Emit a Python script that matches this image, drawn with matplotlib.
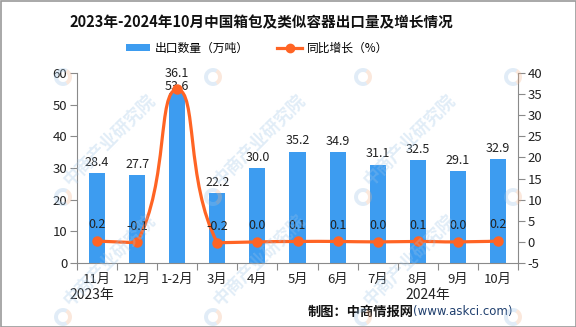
import numpy as np
import matplotlib
matplotlib.use("Agg")
import matplotlib.pyplot as plt
from matplotlib.path import Path
from matplotlib.patches import PathPatch, Patch, Wedge
from matplotlib.lines import Line2D

plt.rcParams['font.family'] = ['Noto Sans CJK SC', 'DejaVu Sans']
plt.rcParams['axes.unicode_minus'] = False

# ---- data ----
categories = ['11月', '12月', '1-2月', '3月', '4月', '5月', '6月', '7月', '8月', '9月', '10月']
export_volume = [28.4, 27.7, 53.6, 22.2, 30.0, 35.2, 34.9, 31.1, 32.5, 29.1, 32.9]   # 万吨
yoy_growth = [0.2, -0.1, 36.1, -0.2, 0.0, 0.1, 0.1, 0.0, 0.1, 0.0, 0.2]              # %
left_ticks = [0, 10, 20, 30, 40, 50, 60]
right_ticks = [-5, 0, 5, 10, 15, 20, 25, 30, 35, 40]

title = '2023年-2024年10月中国箱包及类似容器出口量及增长情况'
bar_name = '出口数量（万吨）'
line_name = '同比增长（%）'

BAR_C = '#3d9cf0'
LINE_C = '#ff6424'
AX_C = '#8a8a8a'

W, H = 576, 327
fig = plt.figure(figsize=(W / 100, H / 100), dpi=100)


def fx(px):
    return px / W


def fy(py):
    return 1 - py / H


ax = fig.add_axes([fx(77), fy(263), fx(518) - fx(77), fy(73) - fy(263)])
ax2 = ax.twinx()

x = np.arange(len(categories))
ax.bar(x, export_volume, width=0.4, color=BAR_C, zorder=2)
ax.set_xlim(-0.5, len(categories) - 0.5)
ax.set_ylim(0, 60)
ax.set_yticks(left_ticks)
ax2.set_ylim(-5, 40)
ax2.set_yticks(right_ticks)

for a in (ax, ax2):
    for s in a.spines.values():
        s.set_color(AX_C)
    a.spines['top'].set_visible(False)
ax.spines['right'].set_visible(False)
ax2.spines['left'].set_visible(False)
ax2.spines['bottom'].set_visible(False)

ax.tick_params(axis='y', colors=AX_C, labelcolor='#222222', labelsize=9.5, length=5, width=0.8, pad=2)
ax2.tick_params(axis='y', colors=AX_C, labelcolor='#222222', labelsize=9.5, length=5, width=0.8, pad=2)
ax.set_xticks(np.arange(len(categories) + 1) - 0.5)
ax.set_xticklabels([])
ax.tick_params(axis='x', which='major', colors=AX_C, length=5, width=0.8)
ax.set_xticks(x, minor=True)
ax.set_xticklabels(categories, minor=True, fontsize=9.5, color='#222222')
ax.tick_params(axis='x', which='minor', length=0, pad=7)

fig.canvas.draw()
bar_top_px = ax.transData.transform(np.column_stack([x, export_volume]))[:, 1]
pt_px = ax2.transData.transform(np.column_stack([x, yoy_growth]))[:, 1]

# bar value labels; a label that would sit on the growth label is tucked onto the bar top
for xi, v, bt, gp in zip(x, export_volume, bar_top_px, pt_px):
    off = 0 if abs((bt + 10) - (gp + 15)) < 16 else 3
    ax.annotate(f'{v:.1f}', (xi, v), xytext=(0, off), textcoords='offset points',
                ha='center', va='bottom', fontsize=9, color='#222222', zorder=5)

# smoothed growth line (bezier through the points, control points clamped to the data box)
pts = ax2.transData.transform(np.column_stack([x, yoy_growth]))
lo, hi = pts.min(axis=0), pts.max(axis=0)
smooth = 0.5
cps = []
for i, p in enumerate(pts):
    if i == 0 or i == len(pts) - 1:
        cps.append((p.copy(), p.copy()))
        continue
    prev_p, next_p = pts[i - 1], pts[i + 1]
    v = (next_p - prev_p) * smooth
    d0 = np.hypot(*(p - prev_p))
    d1 = np.hypot(*(p - next_p))
    s = d0 + d1
    d0, d1 = d0 / s, d1 / s
    c0 = np.clip(p - v * d0, lo, hi)
    c1 = np.clip(p + v * d1, lo, hi)
    cps.append((c0, c1))

verts = [pts[0]]
codes = [Path.MOVETO]
for i in range(len(pts) - 1):
    verts += [cps[i][1], cps[i + 1][0], pts[i + 1]]
    codes += [Path.CURVE4] * 3
inv = ax2.transData.inverted()
verts = inv.transform(np.array(verts))
ax2.add_patch(PathPatch(Path(verts, codes), facecolor='none', edgecolor=LINE_C,
                        lw=2.3, zorder=3, capstyle='round'))
ax2.plot(x, yoy_growth, linestyle='none', marker='o', ms=6.5, color=LINE_C, zorder=4)

for xi, v in zip(x, yoy_growth):
    ax2.annotate(f'{v:.1f}', (xi, v), xytext=(0, 7), textcoords='offset points',
                 ha='center', va='bottom', fontsize=9, color='#222222', zorder=5)

ax.set_zorder(1)
ax2.set_zorder(2)
ax.patch.set_visible(False)

# title and legend
fig.text(fx(261), fy(22), title, ha='center', va='center', fontsize=10.5,
         fontweight='bold', color='#111111')
handles = [Patch(facecolor=BAR_C, edgecolor='none'),
           Line2D([0], [0], color=LINE_C, lw=2.3, marker='o', ms=6)]
fig.legend(handles, [bar_name, line_name], loc='center', ncol=2, frameon=False,
           bbox_to_anchor=(fx(257), fy(48)), fontsize=8.5, handlelength=2.1,
           handleheight=0.6, handletextpad=0.4, columnspacing=2.4)

# year labels and source
fig.text(fx(92), fy(295), '2023年', ha='center', va='center', fontsize=10, color='#222222')
fig.text(fx(428), fy(295), '2024年', ha='center', va='center', fontsize=10, color='#222222')
url = fig.text(fx(513), fy(312), '(www.askci.com)', ha='right', va='center',
               fontsize=8.5, color='#1f3f6e', family='DejaVu Sans')
fig.canvas.draw()
bb = url.get_window_extent()
fig.text(bb.x0 / W, fy(312), '制图：中商情报网', ha='right', va='center',
         fontsize=9.5, color='#111111', fontweight='bold')

# faint brand watermark tiles
for kx in range(5):
    for ky in range(3):
        lx, ly = 63 + 150 * kx, 77 + 120 * ky
        fig.patches.append(Wedge((lx, H - ly), 9, 60, 300, width=4, transform=None,
                                 facecolor='#9cc3e6', alpha=0.3, edgecolor='none', zorder=10))
        fig.patches.append(Wedge((lx, H - ly), 9, -60, 60, width=4, transform=None,
                                 facecolor='#f3b48c', alpha=0.3, edgecolor='none', zorder=10))
        if ky >= 1 and kx <= 2:
            fig.text(fx(lx + 10), fy(ly - 8), '中商产业研究院', rotation=45, ha='left', va='bottom',
                     rotation_mode='anchor', fontsize=12.5, fontweight='bold',
                     color='#9cc3e6', alpha=0.3, zorder=10)

# outer frame
fig.patches.append(plt.Rectangle((0.5, 0.5), W - 1, H - 1, transform=None, fill=False,
                                 edgecolor='#9a9a9a', lw=1.2, zorder=11))

fig.savefig('out.png', dpi=100)
